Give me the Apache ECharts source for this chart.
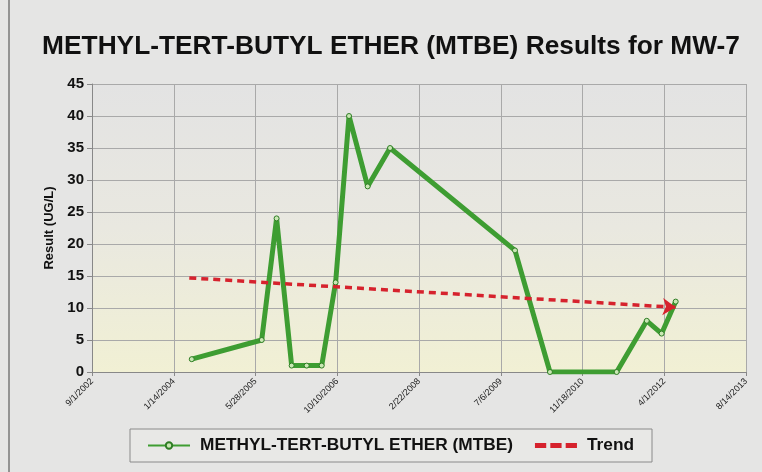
<!DOCTYPE html>
<html><head><meta charset="utf-8">
<script src="https://cdn.jsdelivr.net/npm/echarts@6/dist/echarts.min.js"></script>
<style>html,body{margin:0;padding:0;background:#e5e5e4;}#c{width:762px;height:472px;}</style>
</head><body><div id="c"></div>
<script>
var sampleDates = ['2004-05-03','2005-07-05','2005-10-04','2006-01-04','2006-04-06','2006-07-07','2006-09-30','2006-12-21','2007-04-14','2007-08-29','2009-10-01','2010-05-03','2011-06-15','2011-12-16','2012-03-16','2012-06-10'];
var mtbeValues = [2, 5, 24, 1, 1, 1, 14, 40, 29, 35, 19, 0, 0, 8, 6, 11];
var trendDates = ['2004-04-18','2012-06-10'];
var trendValues = [14.7, 10.1];
var axisStart = '2002-09-01';
var axisEnd = '2013-08-14';
var tickDays = 500;
var yTicks = [0,5,10,15,20,25,30,35,40,45];

var DAY = 86400000;
var t0 = Date.parse(axisStart + 'T00:00:00Z');
function off(d){ return Math.round((Date.parse(d + 'T00:00:00Z') - t0) / DAY); }
function fmt(v){ var d = new Date(t0 + v*DAY); return (d.getUTCMonth()+1)+'/'+d.getUTCDate()+'/'+d.getUTCFullYear(); }

var mtbeData = sampleDates.map(function(d,i){ return [off(d), mtbeValues[i]]; });
var trendData = trendDates.map(function(d,i){ return {coord:[off(d), trendValues[i]]}; });

var chart = echarts.init(document.getElementById('c'));
chart.setOption({
  backgroundColor: '#e5e5e4',
  animation: false,
  title: {
    text: 'METHYL-TERT-BUTYL ETHER (MTBE) Results for MW-7',
    left: 386, textAlign: 'center', top: 29,
    textStyle: {fontFamily: 'Liberation Sans, Arial', fontWeight: 'bold', fontSize: 26.3, color: '#111'}
  },
  graphic: [{type:'line', shape:{x1:9,y1:0,x2:9,y2:472}, style:{stroke:'#777', lineWidth:1.5}}],
  grid: {left: 92, right: 16, top: 84, bottom: 100, show: true, borderWidth: 0,
    backgroundColor: new echarts.graphic.LinearGradient(0,0,0,1,[{offset:0,color:'#e3e3e3'},{offset:0.5,color:'#e9e8e0'},{offset:1,color:'#f1f0d4'}])},
  xAxis: {
    type: 'value', min: 0, max: off(axisEnd), interval: tickDays,
    axisLine: {show: true, lineStyle: {color: '#888'}},
    axisTick: {show: true, length: 4, lineStyle: {color: '#888'}},
    splitLine: {show: true, lineStyle: {color: '#a9a9a9', width: 1}},
    axisLabel: {formatter: fmt, rotate: 45, fontSize: 9, fontFamily: 'Liberation Sans, Arial', color: '#222', margin: 8, showMaxLabel: true}
  },
  yAxis: {
    type: 'value', min: yTicks[0], max: yTicks[yTicks.length-1], interval: 5,
    name: 'Result (UG/L)', nameLocation: 'middle', nameGap: 36,
    nameTextStyle: {fontFamily: 'Liberation Sans, Arial', fontSize: 13, fontWeight: 'bold', color: '#111'},
    axisLine: {show: true, lineStyle: {color: '#888'}},
    axisTick: {show: true, length: 5, lineStyle: {color: '#888'}},
    splitLine: {show: true, lineStyle: {color: '#a9a9a9', width: 1}},
    axisLabel: {fontFamily: 'Liberation Sans, Arial', fontSize: 15, fontWeight: 'bold', color: '#111', margin: 8}
  },
  legend: {
    left: 130, top: 429, padding: [8, 18, 8, 17], itemGap: 22, itemWidth: 42, itemHeight: 8,
    borderColor: '#8a8a8a', borderWidth: 1, backgroundColor: '#e8e8e6',
    textStyle: {fontFamily: 'Liberation Sans, Arial', fontWeight: 'bold', fontSize: 17.3, color: '#111', padding: [0,0,0,5]},
    data: [{name: 'METHYL-TERT-BUTYL ETHER (MTBE)'},
           {name: 'Trend', icon: 'path://M0,0h11v5h-11z M15,0h11v5h-11z M30,0h11v5h-11z', itemStyle: {color: '#d6222d'}}]
  },
  series: [
    {
      name: 'METHYL-TERT-BUTYL ETHER (MTBE)', type: 'line', data: mtbeData,
      symbol: 'circle', symbolSize: 5, showAllSymbol: true,
      lineStyle: {color: '#3e9d32', width: 5},
      itemStyle: {color: '#c9e8b4', borderColor: '#2f7d25', borderWidth: 1}
    },
    {
      name: 'Trend', type: 'line', data: [], symbol: 'none',
      lineStyle: {color: '#d6222d', width: 4, type: [7, 4]},
      itemStyle: {color: '#d6222d'},
      markLine: {
        silent: true, symbol: ['none', 'arrow'], symbolSize: 13,
        label: {show: false},
        lineStyle: {color: '#d6222d', width: 3.5, type: [7, 5]},
        data: [trendData]
      }
    }
  ]
});
</script></body></html>
